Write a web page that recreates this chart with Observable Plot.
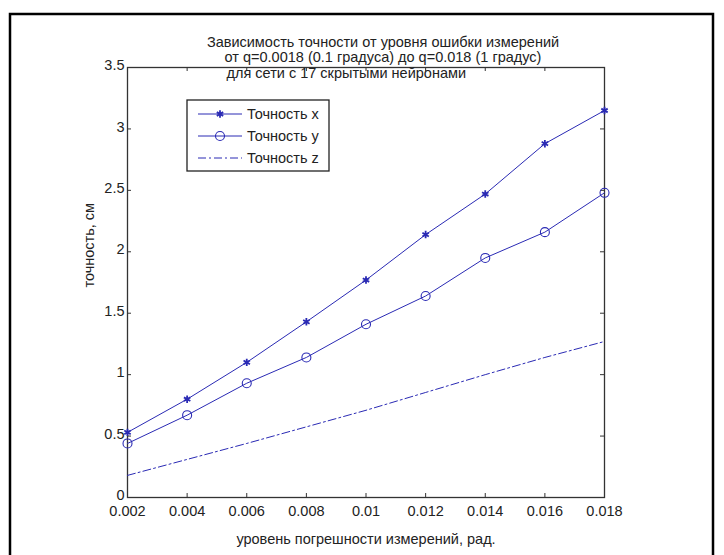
<!DOCTYPE html>
<html>
<head>
<meta charset="utf-8">
<script src="https://cdn.jsdelivr.net/npm/d3@7"></script>
<script src="https://cdn.jsdelivr.net/npm/@observablehq/plot@0.6"></script>
<style>
  html, body { margin: 0; padding: 0; background: #fff; }
</style>
</head>
<body>
<div id="chart"></div>
<script>
// ---- data ----
const xValues = [0.002, 0.004, 0.006, 0.008, 0.010, 0.012, 0.014, 0.016, 0.018];
const accX = [0.53, 0.80, 1.10, 1.43, 1.77, 2.14, 2.47, 2.88, 3.15];
const accY = [0.44, 0.67, 0.93, 1.14, 1.41, 1.64, 1.95, 2.16, 2.48];
const accZ = [0.18, 0.31, 0.44, 0.575, 0.71, 0.855, 1.00, 1.14, 1.27];
const seriesNames = ["Точность x", "Точность y", "Точность z"];
const xTicks = [0.002, 0.004, 0.006, 0.008, 0.010, 0.012, 0.014, 0.016, 0.018];
const xTickLabels = ["0.002", "0.004", "0.006", "0.008", "0.01", "0.012", "0.014", "0.016", "0.018"];
const yTicks = [0, 0.5, 1, 1.5, 2, 2.5, 3, 3.5];
const yTickLabels = ["0", "0.5", "1", "1.5", "2", "2.5", "3", "3.5"];
const titleLines = [
  "Зависимость точности от уровня ошибки измерений",
  "от q=0.0018 (0.1 градуса) до q=0.018 (1 градус)",
  "для сети с 17 скрытыми нейронами"
];
const xLabel = "уровень погрешности измерений, рад.";
const yLabel = "точность, см";

// ---- layout ----
const W = 724, H = 555;
const mL = 127, mR = 120, mT = 67, mB = 58;
const innerW = W - mL - mR, innerH = H - mT - mB;
const blue = "#2a2ab4";
const axisColor = "#333";
const font = "Arial, 'Liberation Sans', sans-serif";
const fs = 14.5;

const rows = xValues.map((x, i) => ({x, ax: accX[i], ay: accY[i], az: accZ[i]}));

const plot = Plot.plot({
  width: W,
  height: H,
  marginLeft: mL,
  marginRight: mR,
  marginTop: mT,
  marginBottom: mB,
  style: {fontFamily: font, fontSize: fs + "px", background: "#fff", color: "#222"},
  x: {domain: [0.002, 0.018]},
  y: {domain: [0, 3.5]},
  marks: [
    Plot.frame({stroke: axisColor, strokeWidth: 1.3}),
    // inward ticks (MATLAB-style box)
    Plot.tickX(xTicks, {x: d => d, insetTop: innerH - 4, stroke: axisColor}),
    Plot.tickX(xTicks, {x: d => d, insetBottom: innerH - 4, stroke: axisColor}),
    Plot.tickY(yTicks, {y: d => d, insetRight: innerW - 4, stroke: axisColor}),
    Plot.tickY(yTicks, {y: d => d, insetLeft: innerW - 4, stroke: axisColor}),
    Plot.axisX({ticks: xTicks, tickSize: 0, tickPadding: 8, tickFormat: (d, i) => xTickLabels[i], label: null, fontSize: fs}),
    Plot.axisY({ticks: yTicks, tickSize: 0, tickPadding: 3, dy: -2, tickFormat: (d, i) => yTickLabels[i], label: null, fontSize: fs}),
    // series
    Plot.line(rows, {x: "x", y: "az", stroke: blue, strokeWidth: 1, strokeDasharray: "8,3,2,3"}),
    Plot.line(rows, {x: "x", y: "ay", stroke: blue, strokeWidth: 1}),
    Plot.dot(rows, {x: "x", y: "ay", r: 4.5, stroke: blue, fill: "none", strokeWidth: 1.1}),
    Plot.line(rows, {x: "x", y: "ax", stroke: blue, strokeWidth: 1}),
    Plot.dot(rows, {x: "x", y: "ax", symbol: "asterisk", r: 3.5, stroke: blue, strokeWidth: 1.8}),
    // titles and labels
    Plot.text([titleLines[0]], {text: d => d, frameAnchor: "top", dx: 17, dy: -31, fontSize: fs}),
    Plot.text([titleLines[1]], {text: d => d, frameAnchor: "top", dx: 17, dy: -16, fontSize: fs}),
    Plot.text([titleLines[2]], {text: d => d, frameAnchor: "top-left", textAnchor: "start", dx: 99, dy: 0, fontSize: fs}),
    Plot.text([xLabel], {text: d => d, frameAnchor: "bottom", dy: 46, fontSize: fs}),
    Plot.text([yLabel], {text: d => d, frameAnchor: "left", rotate: -90, dx: -38, dy: 5, fontSize: fs})
  ]
});

// legend box and outer border
const svg = d3.select(plot);
const lg = svg.append("g").attr("font-family", font).attr("font-size", fs).attr("text-anchor", "start");
lg.append("rect").attr("x", 187).attr("y", 100).attr("width", 142).attr("height", 71)
  .attr("fill", "#fff").attr("stroke", "#222").attr("stroke-width", 1.3);
const legendYs = [114, 136, 158];
seriesNames.forEach((name, i) => {
  const y = legendYs[i];
  lg.append("line").attr("x1", 198).attr("x2", 242).attr("y1", y).attr("y2", y)
    .attr("stroke", blue).attr("stroke-width", 1)
    .attr("stroke-dasharray", i === 2 ? "8,3,2,3" : null);
  if (i === 0) {
    const s = d3.symbol(d3.symbolAsterisk, Math.PI * 3.5 * 3.5);
    lg.append("path").attr("d", s()).attr("transform", `translate(220,${y})`)
      .attr("stroke", blue).attr("stroke-width", 1.8).attr("fill", "none");
  } else if (i === 1) {
    lg.append("circle").attr("cx", 220).attr("cy", y).attr("r", 4.5)
      .attr("stroke", blue).attr("fill", "none").attr("stroke-width", 1.1);
  }
  lg.append("text").attr("x", 247).attr("y", y).attr("dy", "0.35em")
    .attr("text-anchor", "start").attr("fill", "#222").text(name);
});
svg.append("rect").attr("x", 10).attr("y", 14).attr("width", 703).attr("height", 600)
  .attr("fill", "none").attr("stroke", "#000").attr("stroke-width", 2.5);

document.getElementById("chart").appendChild(plot);
</script>
</body>
</html>
